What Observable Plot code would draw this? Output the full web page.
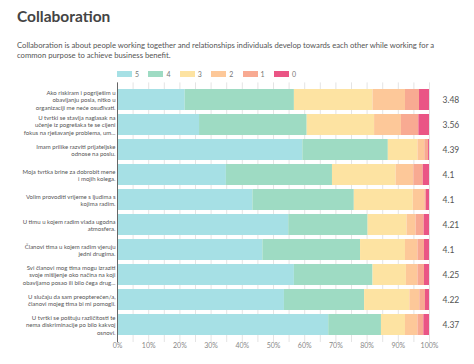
<!DOCTYPE html>
<html><head><meta charset="utf-8">
<script src="https://cdn.jsdelivr.net/npm/d3@7"></script>
<script src="https://cdn.jsdelivr.net/npm/@observablehq/plot@0.6"></script>
<style>
body{margin:0;background:#fff;font-family:Lato,sans-serif;width:474px;height:364px;overflow:hidden;position:relative}
#title{position:absolute;left:17px;top:5px;font-size:15.5px;font-weight:700;color:#444;line-height:22px}
#sub{position:absolute;left:17px;top:41px;font-size:7.7px;line-height:9.6px;color:#555;white-space:nowrap}
#legend{position:absolute;left:0;top:69px;width:474px;height:10px}
.li{position:absolute;top:0;height:10px;font-size:7px;color:#777;line-height:10px}
.sw{display:inline-block;width:15px;height:6px;vertical-align:middle;margin-right:3px;margin-top:-2px}
#chart{position:absolute;left:0;top:78px}
</style></head>
<body>
<div id="title">Collaboration</div>
<div id="sub">Collaboration is about people working together and relationships individuals develop towards each other while working for a<br>common purpose to achieve business benefit.</div>
<div id="legend"></div>
<div id="chart"></div>
<script>
const questions = [
  "Ako riskiram i pogriješim u\nobavljanju posla, nitko u\norganizaciji me neće osuđivati.",
  "U tvrtki se stavlja naglasak na\nučenje iz pogrešaka te se cijeni\nfokus na rješavanje problema, um...",
  "Imam prilike razviti prijateljske\nodnose na poslu.",
  "Moja tvrtka brine za dobrobit mene\ni mojih kolega.",
  "Volim provoditi vrijeme s ljudima s\nkojima radim.",
  "U timu u kojem radim vlada ugodna\natmosfera.",
  "Članovi tima u kojem radim vjeruju\njedni drugima.",
  "Svi članovi mog tima mogu izraziti\nsvoje mišljenje oko načina na koji\nobavljamo posao ili bilo čega drug...",
  "U slučaju da sam preopterećen/a,\nčlanovi mojeg tima bi mi pomogli.",
  "U tvrtki se poštuju različitosti te\nnema diskriminacije po bilo kakvoj\nosnovi."
];
const scores = ["5","4","3","2","1","0"];
const colors = ["#a6e0e5","#9edbc3","#fde3a2","#fdc899","#f8aa92","#ea5585"];
const s5 = [21.7, 26.3, 59.4, 34.9, 43.4, 54.9, 46.6, 56.7, 53.5, 67.7];
const s4 = [35.0, 34.5, 27.4, 34.0, 32.5, 25.4, 31.3, 25.2, 25.7, 16.9];
const s3 = [25.2, 21.6,  9.5, 20.4, 18.9, 12.5, 14.4, 10.7, 14.5,  7.7];
const s2 = [10.4,  8.6,  2.2,  5.7,  3.7,  2.9,  4.0,  3.7,  3.2,  4.0];
const s1 = [ 4.5,  5.6,  1.2,  3.0,  0.5,  2.6,  2.1,  2.1,  1.8,  1.9];
const s0 = [ 3.2,  3.4,  0.3,  2.0,  1.0,  1.7,  1.6,  1.6,  1.3,  1.8];
const means = ["3.48","3.56","4.39","4.1","4.1","4.21","4.1","4.25","4.22","4.37"];
const xTicks = [0,10,20,30,40,50,60,70,80,90,100];

const series = [s5, s4, s3, s2, s1, s0];
const rows = [];
questions.forEach((q, i) => {
  scores.forEach((s, j) => rows.push({q, s, v: series[j][i]}));
});

const leg = document.getElementById("legend");
scores.forEach((s, i) => {
  const d = document.createElement("div");
  d.className = "li";
  d.style.left = (117 + i * 31.4) + "px";
  d.innerHTML = `<span class="sw" style="background:${colors[i]}"></span>${s}`;
  leg.appendChild(d);
});

const plot = Plot.plot({
  width: 474, height: 286,
  marginLeft: 117, marginRight: 45, marginTop: 4.4, marginBottom: 22,
  style: {fontFamily: "Lato, sans-serif", background: "transparent"},
  x: {domain: [0, 100], label: null},
  y: {domain: questions, label: null, padding: 0.18},
  color: {domain: scores, range: colors},
  marks: [
    Plot.ruleX(d3.range(0, 101, 5), {stroke: "#e4e4e4", strokeWidth: 1}),
    Plot.barX(rows, Plot.stackX({y: "q", x: "v", fill: "s", order: null})),
    Plot.ruleX([0], {stroke: "#666", strokeWidth: 1}),
    Plot.text(questions, {y: d => d, x: 100, text: means, dx: 13, textAnchor: "start", fontSize: 8.5, fill: "#555"}),
    Plot.axisY({tickSize: 0, tickPadding: 2, fontSize: 6, lineHeight: 1.25, fill: "#555", label: null}),
    Plot.axisX(xTicks, {tickFormat: d => d + "%", tickSize: 0, tickPadding: 1, fontSize: 7, fill: "#888", label: null})
  ]
});
document.getElementById("chart").appendChild(plot);
</script>
</body></html>
